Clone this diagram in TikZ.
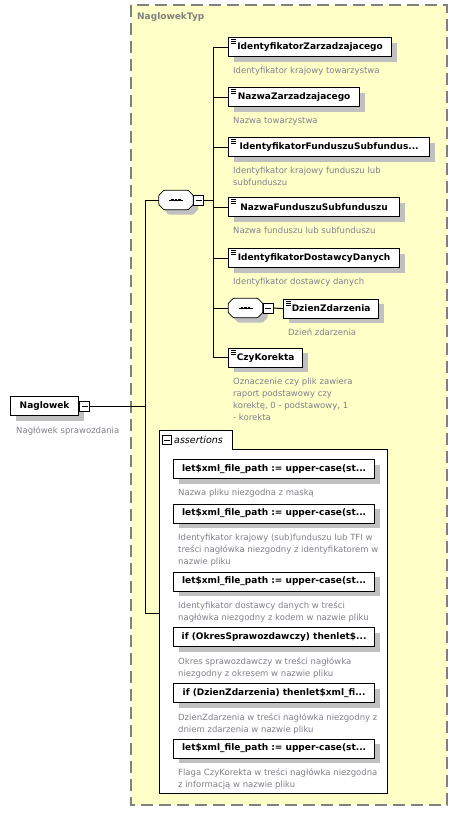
\documentclass[tikz,border=0pt]{standalone}
\usepackage{fontspec}
\setmainfont{DejaVu Sans}
\usepackage{tikz}
\usetikzlibrary{positioning,shadows}
\definecolor{typfill}{RGB}{255,255,200}
\definecolor{typline}{RGB}{128,128,128}
\definecolor{desctext}{RGB}{128,128,140}
\definecolor{shadowgray}{RGB}{192,192,192}

\newcommand{\seqmark}[1]{%
  \path[draw, fill=white, line width=.8pt, shade, rounded corners=.8pt]
    ([xshift=5pt]#1.north west) -- ([xshift=-5pt]#1.north east) -- ([yshift=-5pt]#1.north east)
    -- ([yshift=5pt]#1.south east) -- ([xshift=-5pt]#1.south east) -- ([xshift=5pt]#1.south west)
    -- ([yshift=5pt]#1.south west) -- ([yshift=-5pt]#1.north west) -- cycle;
  \draw[line width=1pt] ([xshift=-7pt]#1.center) -- ([xshift=7pt]#1.center);
  \foreach \d in {-3.6,0,3.6}
    \fill ([xshift=\d pt]#1.center) +(-1.3pt,-1.3pt) rectangle +(1.3pt,1.3pt);}

\begin{document}
\begin{tikzpicture}[x=1pt, y=-1pt,
  shade/.style={drop shadow={shadow xshift=5pt, shadow yshift=-5pt, fill=shadowgray, opacity=1}},
  elem/.style={draw, fill=white, line width=1.2pt, anchor=north west, minimum height=19pt,
    inner sep=0pt, font=\fontsize{9}{11}\selectfont\bfseries, shade},
  docelem/.style={elem, path picture={
      \foreach \k in {2.2,4.2,6.2}
        \draw[line width=.7pt] ([xshift=2.8pt,yshift=-\k pt]path picture bounding box.north west) -- ++(5pt,0pt);}},
  desc/.style={font=\fontsize{8.5}{12}\selectfont, text=desctext, inner sep=0pt, align=left},
  expander/.style={draw, fill=white, line width=.7pt, minimum size=10pt, inner sep=0pt,
    path picture={\draw[line width=.7pt] ([xshift=-3pt]path picture bounding box.center)
      -- ([xshift=3pt]path picture bounding box.center);}},
  seqbox/.style={minimum width=34pt, minimum height=19pt, inner sep=0pt},
  link/.style={line width=1pt}]

  \fill[white] (0,0) rectangle (458,823);
  \useasboundingbox (0,0) rectangle (458,823);

  \draw[typline, fill=typfill, line width=1.1pt, dash pattern=on 12pt off 6pt] (131,5) rectangle (447,805);
  \node (typlabel) [anchor=north west, inner sep=0pt, text=typline, font=\fontsize{9}{11}\selectfont\bfseries] at (137,12) {NaglowekTyp};

  \node (naglowek) [elem, shade/.style={}, minimum width=68pt] at (10,396) {Naglowek};
  \node (naglowekexp) [expander, anchor=west] at (naglowek.east) {};
  \node (naglowekdesc) [desc, below right=10pt and 6pt of naglowek.south west] {Nagłówek sprawozdania};

  \node (seqmain) [seqbox] at (176,200) {};
  \seqmark{seqmain}
  \node (seqmainexp) [expander, anchor=west] at (seqmain.east) {};
  \coordinate (trunk) at (145,200);
  \coordinate (branch) at (213,200);
  \coordinate (asrtport) at (159,613);

  \node (idzarz) [docelem, minimum width=163pt] at (228,37) {IdentyfikatorZarzadzajacego};
  \node (idzarzdesc) [desc, below right=10pt and 5pt of idzarz.south west] {Identyfikator krajowy towarzystwa};
  \node (nazwazarz) [docelem, minimum width=131pt] at (228,87) {NazwaZarzadzajacego};
  \node (nazwazarzdesc) [desc, below right=10pt and 5pt of nazwazarz.south west] {Nazwa towarzystwa};
  \node (idfund) [docelem, minimum width=201pt] at (228,137) {IdentyfikatorFunduszuSubfundus...};
  \node (idfunddesc) [desc, below right=10pt and 5pt of idfund.south west] {Identyfikator krajowy funduszu lub\\subfunduszu};
  \node (nazwafund) [docelem, minimum width=171pt] at (228,197) {NazwaFunduszuSubfunduszu};
  \node (nazwafunddesc) [desc, below right=10pt and 5pt of nazwafund.south west] {Nazwa funduszu lub subfunduszu};
  \node (iddost) [docelem, minimum width=171pt] at (228,248) {IdentyfikatorDostawcyDanych};
  \node (iddostdesc) [desc, below right=10pt and 5pt of iddost.south west] {Identyfikator dostawcy danych};
  \node (seqdzien) [seqbox] at (245.5,308) {};
  \seqmark{seqdzien}
  \node (seqdzienexp) [expander, anchor=west] at (seqdzien.east) {};
  \node (dzien) [docelem, minimum width=95pt] at (283,298.5) {DzienZdarzenia};
  \node (dziendesc) [desc, below right=10pt and 5pt of dzien.south west] {Dzień zdarzenia};
  \node (czykor) [docelem, minimum width=74pt] at (228,347.5) {CzyKorekta};
  \node (czykordesc) [desc, below right=10pt and 5pt of czykor.south west] {Oznaczenie czy plik zawiera\\raport podstawowy czy\\korektę, 0 - podstawowy, 1\\- korekta};

  \draw[link] (naglowekexp.east) -- (trunk |- naglowekexp.east);
  \draw[link] (trunk) -- (trunk |- asrtport) -- (asrtport);
  \draw[link] (trunk) -- (seqmain.west);
  \draw[link] (seqmainexp.east) -- (branch);
  \draw[link] (branch |- idzarz.west) -- (branch |- czykor.west);
  \draw[link] (branch |- idzarz.west) -- (idzarz.west);
  \draw[link] (branch |- nazwazarz.west) -- (nazwazarz.west);
  \draw[link] (branch |- idfund.west) -- (idfund.west);
  \draw[link] (branch |- nazwafund.west) -- (nazwafund.west);
  \draw[link] (branch |- iddost.west) -- (iddost.west);
  \draw[link] (branch |- seqdzien.west) -- (seqdzien.west);
  \draw[link] (seqdzienexp.east) -- (dzien.west);
  \draw[link] (branch |- czykor.west) -- (czykor.west);

  \draw[line width=1pt, fill=white] (159,793) -- (159,430) -- (232,430) -- (232,449) -- (387,449) -- (387,793) -- cycle;
  \node (asrtexp) [expander, minimum size=8.5pt] at (167,440) {};
  \node (asrtlabel) [anchor=west, inner sep=0pt, font=\fontsize{9.5}{11}\selectfont\itshape] at (174,440) {assertions};

  \node (asrta) [elem, minimum width=201pt] at (173,459) {let\$xml\_file\_path := upper-case(st...};
  \node (asrtadesc) [desc, below right=10pt and 5pt of asrta.south west] {Nazwa pliku niezgodna z maską};
  \node (asrtb) [elem, minimum width=201pt] at (173,503.5) {let\$xml\_file\_path := upper-case(st...};
  \node (asrtbdesc) [desc, below right=10pt and 5pt of asrtb.south west] {Identyfikator krajowy (sub)funduszu lub TFI w\\treści nagłówka niezgodny z identyfikatorem w\\nazwie pliku};
  \node (asrtc) [elem, minimum width=201pt] at (173,571.5) {let\$xml\_file\_path := upper-case(st...};
  \node (asrtcdesc) [desc, below right=10pt and 5pt of asrtc.south west] {Identyfikator dostawcy danych w treści\\nagłówka niezgodny z kodem w nazwie pliku};
  \node (asrtd) [elem, minimum width=201pt] at (173,627) {if (OkresSprawozdawczy) thenlet\$...};
  \node (asrtddesc) [desc, below right=10pt and 5pt of asrtd.south west] {Okres sprawozdawczy w treści nagłówka\\niezgodny z okresem w nazwie pliku};
  \node (asrte) [elem, minimum width=201pt] at (173,683) {if (DzienZdarzenia) thenlet\$xml\_fi...};
  \node (asrtedesc) [desc, below right=10pt and 5pt of asrte.south west] {DzienZdarzenia w treści nagłówka niezgodny z\\dniem zdarzenia w nazwie pliku};
  \node (asrtf) [elem, minimum width=201pt] at (173,738.5) {let\$xml\_file\_path := upper-case(st...};
  \node (asrtfdesc) [desc, below right=10pt and 5pt of asrtf.south west] {Flaga CzyKorekta w treści nagłówka niezgodna\\z informacją w nazwie pliku};
\end{tikzpicture}
\end{document}
